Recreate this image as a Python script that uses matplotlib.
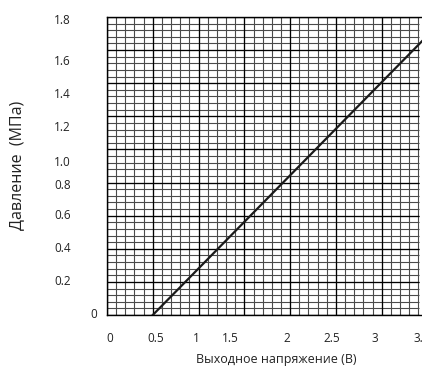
import numpy as np
import matplotlib
matplotlib.use("Agg")
import matplotlib.pyplot as plt

plt.rcParams['font.family'] = ['Open Sans', 'DejaVu Sans']

# data
voltage = [0.5, 4.5]          # V
pressure = [0.0, 2.25]        # MPa
x_labels = ['0', '0.5', '1', '1.5', '2', '2.5', '3', '3.5']
y_labels = ['0', '0.2', '0.4', '0.6', '0.8', '1.0', '1.2', '1.4', '1.6', '1.8']
x_title = 'Выходное напряжение (В)'
y_title = 'Давление  (МПа)'

# layout (label placement as in the reference)
x_label_pos = [0.03, 0.53, 0.98, 1.35, 1.96, 2.45, 2.93, 3.44]
y_label_pos = [0.0, 0.2, 0.4, 0.6, 0.785, 0.92, 1.13, 1.33, 1.53, 1.78]

W, H = 422, 367
fig = plt.figure(figsize=(W / 100, H / 100), dpi=100)
ax = fig.add_axes([107 / W, 1 - 315 / H, 315 / W, 298 / H])
xmax, ymax = 315 / 92.4, 1.8
ax.set_xlim(0, xmax)
ax.set_ylim(0, ymax)

# grid
minor_x = np.arange(0, xmax, 0.1)
minor_y = np.arange(0, ymax + 1e-9, 0.04)
ax.vlines(minor_x, 0, ymax, colors='#4a4a4a', lw=0.8, zorder=1)
ax.hlines(minor_y, 0, xmax, colors='#4a4a4a', lw=0.8, zorder=1)
ax.vlines(np.arange(0, xmax, 0.5), 0, ymax, colors='black', lw=0.9, zorder=2)
ax.hlines(np.arange(0, ymax + 1e-9, 0.2), 0, xmax, colors='black', lw=0.9, zorder=2)

ax.plot(voltage, pressure, color='#1a1a1a', lw=1.6, zorder=3)

for s in ax.spines.values():
    s.set_color('black')
    s.set_linewidth(1.0)
ax.spines['right'].set_visible(False)

ax.set_xticks(x_label_pos, x_labels)
ax.set_yticks([])
ax.tick_params(axis='x', length=0, pad=12, labelsize=8.5, colors='#222222')
for lab in ax.get_xticklabels():
    lab.set_clip_on(False)

# y labels: the "0" sits next to the axis, others further left
for i, (lbl, pos) in enumerate(zip(y_labels, y_label_pos)):
    xa = (97 - 107) / 315 if i == 0 else (71 - 107) / 315
    ax.text(xa, pos, lbl, transform=ax.get_yaxis_transform(), ha='right',
            va='center', fontsize=8.5, color='#222222', clip_on=False)

fig.text(17 / W, 1 - 165 / H, y_title, rotation=90, ha='center', va='center',
         fontsize=11.5, color='#222222')
fig.text(276 / W, 1 - 359 / H, x_title, ha='center', va='center',
         fontsize=9, color='#222222')

fig.savefig('out.png', dpi=100)
